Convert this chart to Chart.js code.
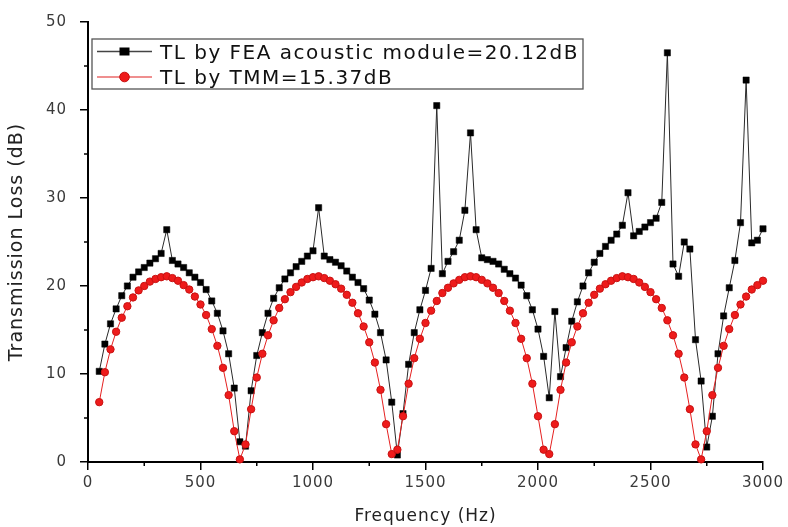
<!DOCTYPE html>
<html>
<head>
<meta charset="utf-8">
<script src="https://cdn.jsdelivr.net/npm/chart.js@4.4.1/dist/chart.umd.min.js"></script>
<style>
html,body{margin:0;padding:0;background:#fff;}
canvas{display:block;}
</style>
</head>
<body>
<canvas id="chart" width="788" height="527"></canvas>
<script>
// ---------- data ----------
const frequencies = [
  50,75,100,125,150,175,200,225,250,275,300,325,350,375,400,425,450,475,500,525,550,575,600,625,650,675,
  700,725,750,775,800,825,850,875,900,925,950,975,1000,1025,1050,1075,1100,1125,1150,1175,1200,1225,1250,1275,1300,1325,1350,
  1375,1400,1425,1450,1475,1500,1525,1550,1575,1600,1625,1650,1675,1700,1725,1750,1775,1800,1825,1850,1875,1900,1925,1950,1975,2000,2025,
  2050,2075,2100,2125,2150,2175,2200,2225,2250,2275,2300,2325,2350,2375,2400,2425,2450,2475,2500,2525,2550,2575,2600,2625,2650,2675,2700,
  2725,2750,2775,2800,2825,2850,2875,2900,2925,2950,2975,3000
];

const feaTL = [
  10.3,13.4,15.7,17.4,18.9,20.0,21.0,21.6,22.1,22.6,23.1,23.7,26.4,22.9,22.5,22.1,21.5,21.0,20.4,19.6,18.3,16.9,14.9,12.3,8.4,2.3,
  1.8,8.1,12.1,14.7,16.9,18.6,19.8,20.8,21.5,22.2,22.8,23.4,24.0,28.9,23.4,23.0,22.7,22.3,21.7,21.0,20.4,19.7,18.4,16.8,14.7,11.6,6.8,
  0.8,5.5,11.1,14.7,17.3,19.5,22.0,40.5,21.4,22.8,23.9,25.2,28.6,37.4,26.4,23.2,23.0,22.8,22.5,21.9,21.4,20.9,20.1,18.9,17.3,15.1,12.0,
  7.3,17.1,9.7,13.0,16.0,18.2,20.0,21.5,22.7,23.7,24.5,25.2,25.9,26.9,30.6,25.7,26.2,26.7,27.2,27.7,29.5,46.5,22.5,21.1,25.0,24.2,13.9,
  9.2,1.7,5.2,12.3,16.6,19.8,22.9,27.2,43.4,24.9,25.2,26.5
];

const tmmTL = [
  6.8,10.2,12.8,14.8,16.4,17.7,18.7,19.5,20.0,20.5,20.8,21.0,21.1,20.9,20.6,20.1,19.6,18.8,17.9,16.7,15.1,13.2,10.7,7.6,3.5,0.3,
  2.0,6.0,9.6,12.3,14.4,16.1,17.5,18.5,19.3,19.9,20.4,20.8,21.0,21.1,20.9,20.6,20.2,19.7,19.0,18.1,16.9,15.4,13.6,11.3,8.2,4.3,0.9,
  1.4,5.2,8.9,11.8,14.0,15.8,17.2,18.3,19.2,19.8,20.3,20.7,21.0,21.1,21.0,20.7,20.3,19.8,19.2,18.3,17.2,15.8,14.0,11.8,8.9,5.2,1.4,
  0.9,4.3,8.2,11.3,13.6,15.4,16.9,18.1,19.0,19.7,20.2,20.6,20.9,21.1,21.0,20.8,20.4,19.9,19.3,18.5,17.5,16.1,14.4,12.3,9.6,6.0,2.0,
  0.3,3.5,7.6,10.7,13.2,15.1,16.7,17.9,18.8,19.6,20.1,20.6
];

const seriesLabels = ['TL by FEA acoustic module=20.12dB', 'TL by TMM=15.37dB'];
const xTickValues = [0, 500, 1000, 1500, 2000, 2500, 3000];
const yTickValues = [0, 10, 20, 30, 40, 50];
const xMinorTicks = [250, 750, 1250, 1750, 2250, 2750];
const yMinorTicks = [5, 15, 25, 35, 45];
const xTitle = 'Frequency (Hz)';
const yTitle = 'Transmission Loss (dB)';

// ---------- styling ----------
const FONT = '"DejaVu Sans", "Liberation Sans", Arial, sans-serif';
const BLACK_LINE = '#2a2a2a';
const RED_FILL = '#ee1b1b';
const RED_EDGE = '#c81212';
const RED_LINE = '#e52020';

const toPoints = (ys) => frequencies.map((f, i) => ({ x: f, y: ys[i] }));

const spacingPlugin = {
  id: 'spacing',
  beforeDraw(chart) { chart.ctx.letterSpacing = '1px'; },
  afterDraw(chart) { chart.ctx.letterSpacing = '0px'; }
};

const minorTickPlugin = {
  id: 'minorTicks',
  afterDraw(chart) {
    const { ctx, chartArea, scales } = chart;
    ctx.save();
    ctx.strokeStyle = '#000';
    ctx.lineWidth = 1.5;
    ctx.beginPath();
    xMinorTicks.forEach(v => {
      const px = scales.x.getPixelForValue(v);
      ctx.moveTo(px, chartArea.bottom);
      ctx.lineTo(px, chartArea.bottom + 4);
    });
    yMinorTicks.forEach(v => {
      const py = scales.y.getPixelForValue(v);
      ctx.moveTo(chartArea.left, py);
      ctx.lineTo(chartArea.left - 4, py);
    });
    ctx.stroke();
    ctx.restore();
  }
};

const legendPlugin = {
  id: 'legendBox',
  afterDraw(chart) {
    const { ctx, chartArea } = chart;
    const bx = chartArea.left + 4, by = chartArea.top + 17, bw = 491, bh = 50;
    ctx.save();
    ctx.fillStyle = '#fff';
    ctx.fillRect(bx, by, bw, bh);
    ctx.strokeStyle = '#555';
    ctx.lineWidth = 1.3;
    ctx.strokeRect(bx, by, bw, bh);
    ctx.font = '20px ' + FONT;
    ctx.letterSpacing = '1.5px';
    ctx.textBaseline = 'alphabetic';
    const rows = [by + 12.5, by + 38];
    rows.forEach((ry, i) => {
      const ds = chart.data.datasets[i];
      ctx.strokeStyle = i === 0 ? '#444' : '#ea6a6a';
      ctx.lineWidth = 1.5;
      ctx.beginPath();
      ctx.moveTo(bx + 5, ry);
      ctx.lineTo(bx + 60, ry);
      ctx.stroke();
      const mx = bx + 32.5;
      if (i === 0) {
        ctx.fillStyle = '#000';
        ctx.fillRect(mx - 5, ry - 4, 10, 8);
      } else {
        ctx.fillStyle = RED_FILL;
        ctx.strokeStyle = RED_EDGE;
        ctx.lineWidth = 1;
        ctx.beginPath();
        ctx.arc(mx, ry, 4.8, 0, Math.PI * 2);
        ctx.fill();
        ctx.stroke();
      }
      ctx.fillStyle = '#111';
      ctx.fillText(ds.label, bx + 68, ry + 7.3);
    });
    ctx.restore();
  }
};

new Chart(document.getElementById('chart'), {
  type: 'line',
  data: {
    datasets: [
      {
        label: seriesLabels[0],
        data: toPoints(feaTL),
        borderColor: BLACK_LINE,
        borderWidth: 1,
        pointStyle: 'rect',
        pointRadius: 4.4,
        pointBackgroundColor: '#000',
        pointBorderColor: '#000',
        pointBorderWidth: 0.5,
        tension: 0,
        clip: false,
        order: 2
      },
      {
        label: seriesLabels[1],
        data: toPoints(tmmTL),
        borderColor: RED_LINE,
        borderWidth: 1,
        pointStyle: 'circle',
        pointRadius: 3.7,
        pointBackgroundColor: RED_FILL,
        pointBorderColor: RED_EDGE,
        pointBorderWidth: 1,
        tension: 0,
        clip: false,
        order: 1
      }
    ]
  },
  options: {
    responsive: false,
    animation: false,
    devicePixelRatio: 1,
    events: [],
    layout: { padding: { left: 0, right: 25, top: 20, bottom: 0 } },
    plugins: { legend: { display: false }, tooltip: { enabled: false } },
    scales: {
      x: {
        type: 'linear',
        min: 0,
        max: 3000,
        afterBuildTicks: s => { s.ticks = xTickValues.map(v => ({ value: v })); },
        afterFit: s => { s.height = 65; },
        ticks: {
          callback: v => String(v),
          font: { family: FONT, size: 15 },
          color: '#3a3a3a',
          padding: 4,
          maxRotation: 0,
          autoSkip: false
        },
        grid: { drawOnChartArea: false, drawTicks: true, tickLength: 8, color: '#000', lineWidth: 1.5 },
        border: { display: true, color: '#000', width: 2 },
        title: { display: true, text: xTitle, font: { family: FONT, size: 17 }, color: '#222', padding: { top: 2, bottom: 0 } }
      },
      y: {
        type: 'linear',
        min: 0,
        max: 50,
        afterBuildTicks: s => { s.ticks = yTickValues.map(v => ({ value: v })); },
        afterFit: s => { s.width = 88; },
        ticks: {
          callback: v => String(v),
          font: { family: FONT, size: 15 },
          color: '#3a3a3a',
          padding: 13
        },
        grid: { drawOnChartArea: false, drawTicks: true, tickLength: 8, color: '#000', lineWidth: 1.5 },
        border: { display: true, color: '#000', width: 2 },
        title: { display: true, text: yTitle, font: { family: FONT, size: 19 }, color: '#222', padding: { top: 6, bottom: 0 } }
      }
    }
  },
  plugins: [spacingPlugin, minorTickPlugin, legendPlugin]
});
</script>
</body>
</html>
